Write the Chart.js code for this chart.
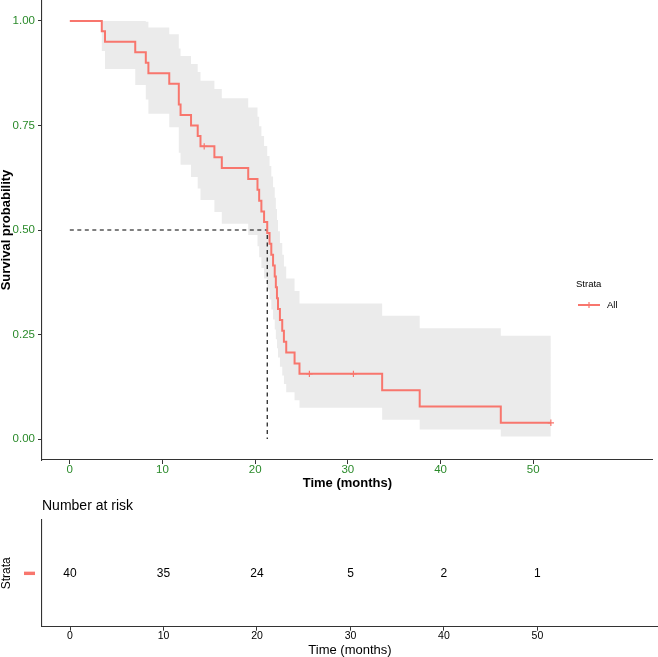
<!DOCTYPE html>
<html>
<head>
<meta charset="utf-8">
<script src="https://cdn.jsdelivr.net/npm/chart.js@4.4.1/dist/chart.umd.min.js"></script>
<style>
  html, body { margin: 0; padding: 0; background: #fff; }
  body { width: 658px; height: 657px; position: relative; overflow: hidden; }
  #top { position: absolute; left: 0; top: -12px; }
  #risk { position: absolute; left: 0; top: 490px; }
</style>
</head>
<body>
<canvas id="top" width="658" height="508"></canvas>
<canvas id="risk" width="658" height="167"></canvas>
<script>
// Kaplan-Meier steps
const eventTimes = [0, 3.45, 3.8, 7.06, 8.2, 8.48, 10.73, 11.76, 11.95, 13.08, 13.8, 14.1,
  15.6, 16.4, 19.25, 20.25, 20.43, 20.67, 20.96, 21.3, 21.55, 21.74, 21.93, 22.11, 22.23,
  22.35, 22.46, 22.67, 22.92, 23.1, 23.35, 24.25, 24.78, 33.7, 37.75, 46.5, 51.9];
const survival = [1, 0.975, 0.95, 0.925, 0.9, 0.875, 0.85, 0.8, 0.775, 0.75, 0.725, 0.7,
  0.674, 0.648, 0.622, 0.596, 0.570, 0.544, 0.519, 0.493, 0.467, 0.441, 0.415, 0.389, 0.363,
  0.337, 0.311, 0.285, 0.259, 0.233, 0.207, 0.181, 0.156, 0.117, 0.078, 0.039, 0.039];
const upperCI = [1, 1, 1, 1, 0.998, 0.984, 0.968, 0.934, 0.916, 0.897, 0.878, 0.857,
  0.837, 0.815, 0.793, 0.771, 0.748, 0.725, 0.701, 0.677, 0.653, 0.628, 0.602, 0.577, 0.550,
  0.524, 0.497, 0.469, 0.441, 0.413, 0.384, 0.354, 0.324, 0.295, 0.265, 0.247, 0.247];
const lowerCI = [1, 0.928, 0.885, 0.847, 0.812, 0.778, 0.746, 0.685, 0.656, 0.627, 0.599, 0.572,
  0.543, 0.515, 0.488, 0.461, 0.435, 0.409, 0.384, 0.358, 0.334, 0.310, 0.286, 0.262, 0.239,
  0.217, 0.195, 0.173, 0.152, 0.132, 0.112, 0.093, 0.075, 0.046, 0.023, 0.006, 0.006];
const censorTimes = [14.5, 25.85, 30.6, 51.9];
const censorSurv = [0.7, 0.156, 0.156, 0.039];
const medianTime = 21.3;
const medianSurv = 0.5;

const xTicks = [0, 10, 20, 30, 40, 50];
const yTicks = [0, 0.25, 0.5, 0.75, 1];

const riskTimes = [0, 10, 20, 30, 40, 50];
const riskCounts = [40, 35, 24, 5, 2, 1];

const strataName = "All";
const curveColor = "#F8766D";
const bandColor = "#EBEBEB";
const tickGreen = "#2a8a2a";
const axisColor = "#333333";
const FONT = "'Liberation Sans', Arial, sans-serif";

const pts = (xs, ys) => xs.map((x, i) => ({ x: x, y: ys[i] }));

// legend drawn over the plot panel, like the original
const strataLegend = {
  id: "strataLegend",
  afterDraw(chart) {
    const ctx = chart.ctx;
    const top = chart.chartArea.top;
    ctx.save();
    ctx.fillStyle = "#000";
    ctx.font = "9.5px " + FONT;
    ctx.textBaseline = "middle";
    ctx.textAlign = "left";
    ctx.fillText("Strata", 576, top + 284);
    ctx.fillText(strataName, 607, top + 305);
    ctx.strokeStyle = curveColor;
    ctx.lineWidth = 2;
    ctx.beginPath();
    ctx.moveTo(578, top + 305);
    ctx.lineTo(600, top + 305);
    ctx.stroke();
    ctx.lineWidth = 1.2;
    ctx.beginPath();
    ctx.moveTo(589, top + 302);
    ctx.lineTo(589, top + 308);
    ctx.stroke();
    ctx.restore();
  }
};

new Chart(document.getElementById("top"), {
  type: "line",
  data: {
    datasets: [
      {
        label: "upper",
        data: pts(eventTimes, upperCI),
        stepped: "before",
        borderWidth: 0,
        borderColor: "rgba(0,0,0,0)",
        backgroundColor: bandColor,
        fill: "+1",
        pointRadius: 0,
        order: 6
      },
      {
        label: "lower",
        data: pts(eventTimes, lowerCI),
        stepped: "before",
        borderWidth: 0,
        borderColor: "rgba(0,0,0,0)",
        fill: false,
        pointRadius: 0,
        order: 6
      },
      {
        label: "median",
        data: [{ x: 0, y: medianSurv }, { x: medianTime, y: medianSurv }, { x: medianTime, y: 0 }],
        borderColor: "#000",
        borderWidth: 1.1,
        borderDash: [4, 3.5],
        fill: false,
        pointRadius: 0,
        order: 4
      },
      {
        label: strataName,
        data: pts(eventTimes, survival),
        stepped: "before",
        borderColor: curveColor,
        borderWidth: 2,
        fill: false,
        pointRadius: 0,
        order: 2
      },
      {
        label: "censor",
        data: pts(censorTimes, censorSurv),
        showLine: false,
        pointStyle: "cross",
        pointRadius: 3.2,
        pointBorderColor: curveColor,
        pointBorderWidth: 1.2,
        order: 1
      }
    ]
  },
  options: {
    responsive: false,
    animation: false,
    layout: { padding: { top: 12, left: 0, right: 0, bottom: 0 } },
    plugins: { legend: { display: false }, tooltip: { enabled: false } },
    scales: {
      x: {
        type: "linear",
        min: -3,
        max: 62.9,
        afterBuildTicks(scale) { scale.ticks = xTicks.map(v => ({ value: v })); },
        afterFit(scale) { scale.height = 36; },
        ticks: { color: tickGreen, font: { family: FONT, size: 11.5, lineHeight: 1 }, padding: 0, maxRotation: 0 },
        grid: { drawOnChartArea: false, drawTicks: true, tickLength: 4, color: axisColor },
        border: { display: true, color: axisColor, width: 1.1 },
        title: {
          display: true,
          text: "Time (months)",
          color: "#000",
          font: { family: FONT, size: 13, weight: "bold", lineHeight: 1.2 },
          padding: { top: 0, bottom: 5 }
        }
      },
      y: {
        type: "linear",
        min: -0.05,
        max: 1.05,
        afterBuildTicks(scale) { scale.ticks = yTicks.map(v => ({ value: v })); },
        afterFit(scale) { scale.width = 42; },
        ticks: {
          color: tickGreen,
          font: { family: FONT, size: 11.5 },
          padding: 3,
          callback: v => v.toFixed(2)
        },
        grid: { drawOnChartArea: false, drawTicks: true, tickLength: 4, color: axisColor },
        border: { display: true, color: axisColor, width: 1.1 },
        title: {
          display: true,
          text: "Survival probability",
          color: "#000",
          font: { family: FONT, size: 13, weight: "bold", lineHeight: 1 },
          padding: { top: 0, bottom: 0 }
        }
      }
    }
  },
  plugins: [strataLegend]
});

// risk table: numbers placed through the chart's own scales
const riskText = {
  id: "riskText",
  afterDatasetsDraw(chart) {
    const ctx = chart.ctx;
    const meta = chart.getDatasetMeta(0);
    ctx.save();
    ctx.fillStyle = "#000";
    ctx.font = "12px " + FONT;
    ctx.textAlign = "center";
    ctx.textBaseline = "middle";
    meta.data.forEach((el, i) => ctx.fillText(String(riskCounts[i]), el.x, el.y));
    // coloured strata key in place of the y label
    const yMid = chart.scales.y.getPixelForValue(0.5);
    ctx.fillStyle = curveColor;
    ctx.fillRect(24, yMid - 1.7, 11, 3.4);
    // table title
    ctx.fillStyle = "#000";
    ctx.font = "14px " + FONT;
    ctx.textAlign = "left";
    ctx.fillText("Number at risk", chart.chartArea.left, 16);
    ctx.restore();
  }
};

new Chart(document.getElementById("risk"), {
  type: "scatter",
  data: {
    datasets: [{
      label: strataName,
      data: riskTimes.map(t => ({ x: t, y: 0.5 })),
      pointRadius: 0
    }]
  },
  options: {
    responsive: false,
    animation: false,
    layout: { padding: { top: 30, left: 0, right: 0, bottom: 0 } },
    plugins: { legend: { display: false }, tooltip: { enabled: false } },
    scales: {
      x: {
        type: "linear",
        min: -3,
        max: 62.9,
        afterBuildTicks(scale) { scale.ticks = xTicks.map(v => ({ value: v })); },
        afterFit(scale) { scale.height = 30.3; },
        ticks: { color: "#000", font: { family: FONT, size: 10.5, lineHeight: 1 }, padding: 0, maxRotation: 0 },
        grid: { drawOnChartArea: false, drawTicks: true, tickLength: 4, color: axisColor },
        border: { display: true, color: axisColor, width: 1.1 },
        title: {
          display: true,
          text: "Time (months)",
          color: "#000",
          font: { family: FONT, size: 13, lineHeight: 1 },
          padding: { top: 0, bottom: 0.5 }
        }
      },
      y: {
        type: "linear",
        min: 0,
        max: 1,
        afterFit(scale) { scale.width = 42; },
        ticks: { display: false },
        grid: { drawOnChartArea: false, drawTicks: false },
        border: { display: true, color: axisColor, width: 1.1 },
        title: {
          display: true,
          text: "Strata",
          color: "#000",
          font: { family: FONT, size: 12, lineHeight: 1 },
          padding: { top: 1, bottom: 0 }
        }
      }
    }
  },
  plugins: [riskText]
});
</script>
</body>
</html>
